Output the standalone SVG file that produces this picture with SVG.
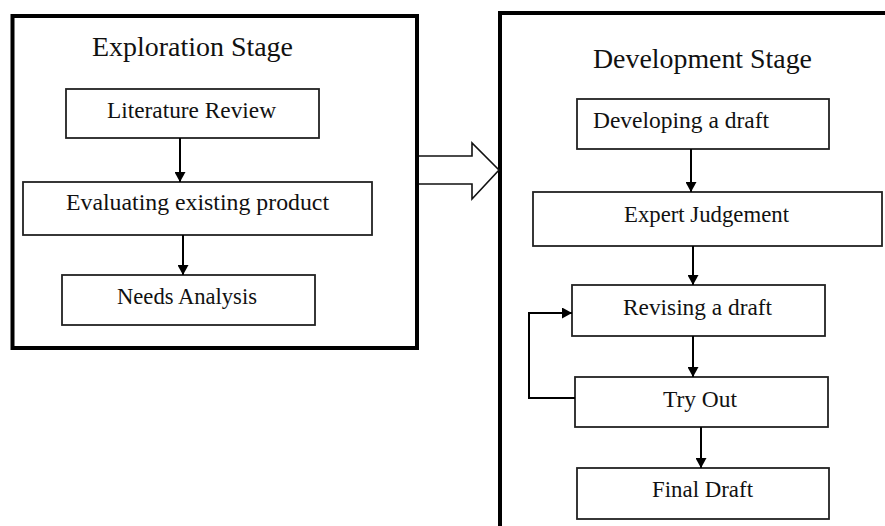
<svg xmlns="http://www.w3.org/2000/svg" width="885" height="526" viewBox="0 0 885 526">
<style>
.stage{fill:none;stroke:#000;stroke-width:4}
.box{fill:#fff;stroke:#222;stroke-width:1.8}
.t{font-family:"Liberation Serif","Times New Roman",serif;font-size:23px;fill:#111}
.title{font-family:"Liberation Serif","Times New Roman",serif;font-size:28px;fill:#111}
.c{fill:none;stroke:#000;stroke-width:2}
</style>
<defs>
<marker id="ah" markerUnits="userSpaceOnUse" markerWidth="11" markerHeight="11" refX="10" refY="5.5" orient="auto">
<path d="M0,0 L10,5.5 L0,11 z" fill="#000"/>
</marker>
</defs>
<rect width="885" height="526" fill="#fff"/>
<g id="exploration-stage">
<rect class="stage" x="12.5" y="16" width="404.5" height="332"/>
<text class="title" x="92" y="56" textLength="201" lengthAdjust="spacingAndGlyphs">Exploration Stage</text>
</g>
<g id="development-stage">
<path class="stage" d="M500,526 V13 H885"/>
<text class="title" x="593" y="68" textLength="219" lengthAdjust="spacingAndGlyphs">Development Stage</text>
</g>
<g id="literature-review">
<rect class="box" x="66" y="89" width="253" height="49"/>
<text class="t" x="107" y="118" textLength="169" lengthAdjust="spacingAndGlyphs">Literature  Review</text>
</g>
<g id="evaluating-existing-product">
<rect class="box" x="23" y="182" width="349" height="53"/>
<text class="t" x="66" y="210" textLength="263" lengthAdjust="spacingAndGlyphs">Evaluating  existing  product</text>
</g>
<g id="needs-analysis">
<rect class="box" x="62" y="275" width="253" height="50"/>
<text class="t" x="117" y="304" textLength="140" lengthAdjust="spacingAndGlyphs">Needs Analysis</text>
</g>
<g id="developing-a-draft">
<rect class="box" x="577" y="99" width="252" height="50"/>
<text class="t" x="593" y="128" textLength="176" lengthAdjust="spacingAndGlyphs">Developing  a draft</text>
</g>
<g id="expert-judgement">
<rect class="box" x="533" y="192" width="349" height="54"/>
<text class="t" x="624" y="222" textLength="165" lengthAdjust="spacingAndGlyphs">Expert  Judgement</text>
</g>
<g id="revising-a-draft">
<rect class="box" x="572" y="285" width="253" height="51"/>
<text class="t" x="623" y="315" textLength="149" lengthAdjust="spacingAndGlyphs">Revising  a draft</text>
</g>
<g id="try-out">
<rect class="box" x="575" y="377" width="253" height="50"/>
<text class="t" x="663" y="407" textLength="74" lengthAdjust="spacingAndGlyphs">Try Out</text>
</g>
<g id="final-draft">
<rect class="box" x="577" y="468" width="252" height="51"/>
<text class="t" x="652" y="497" textLength="101" lengthAdjust="spacingAndGlyphs">Final  Draft</text>
</g>
<g id="connectors">
<path d="M419,156 H472 V143 L499,170 L472,199 V184 H419" fill="#fff" stroke="#111" stroke-width="1.6"/>
<line class="c" x1="180" y1="138" x2="180" y2="182" marker-end="url(#ah)"/>
<line class="c" x1="183" y1="235" x2="183" y2="275" marker-end="url(#ah)"/>
<line class="c" x1="691" y1="149" x2="691" y2="192" marker-end="url(#ah)"/>
<line class="c" x1="693" y1="246" x2="693" y2="285" marker-end="url(#ah)"/>
<line class="c" x1="693" y1="336" x2="693" y2="377" marker-end="url(#ah)"/>
<line class="c" x1="701" y1="427" x2="701" y2="468" marker-end="url(#ah)"/>
<path class="c" d="M575,398 H529 V313 H572" marker-end="url(#ah)"/>
</g>
</svg>
